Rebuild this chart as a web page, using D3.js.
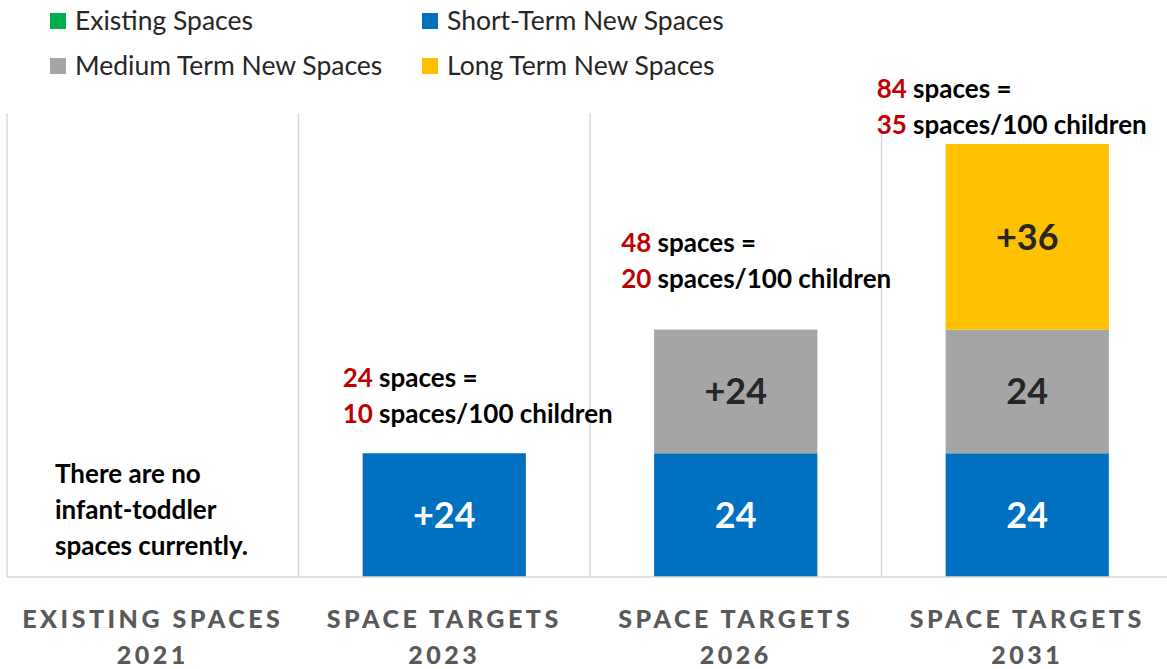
<!DOCTYPE html>
<html>
<head>
<meta charset="utf-8">
<script src="https://cdn.jsdelivr.net/npm/d3@7"></script>
<style>
  body { margin: 0; background: #fff; }
  svg { font-family: Lato, "Open Sans", sans-serif; }
</style>
</head>
<body>
<script>
// Categories and their two-line tick labels
const categories = ["2021", "2023", "2026", "2031"];
const tickLine1 = ["EXISTING SPACES", "SPACE TARGETS", "SPACE TARGETS", "SPACE TARGETS"];
const tickLine2 = ["2021", "2023", "2026", "2031"];

// Stacked series (spaces)
const seriesNames = ["Existing Spaces", "Short-Term New Spaces", "Medium Term New Spaces", "Long Term New Spaces"];
const existing = [0, 0, 0, 0];
const shortTerm = [0, 24, 24, 24];
const mediumTerm = [0, 0, 24, 24];
const longTerm = [0, 0, 0, 36];

// Bar labels
const shortLabels = ["", "+24", "24", "24"];
const mediumLabels = ["", "", "+24", "24"];
const longLabels = ["", "", "", "+36"];

// Annotations above bars
const totals = [null, 24, 48, 84];
const perHundred = [null, 10, 20, 35];
const noteLines = ["There are no", "infant-toddler", "spaces currently."];

const width = 1167, height = 669;
const colors = ["#00B050", "#0070C0", "#A5A5A5", "#FFC000"];
const margin = {left: 7, right: -6, top: 113, bottom: 92};

const svg = d3.select("body").append("svg")
    .attr("width", width)
    .attr("height", height);

const x = d3.scaleBand()
    .domain(categories)
    .range([margin.left, width - margin.right])
    .paddingInner(0.44)
    .paddingOuter(0.22);

// bands for grid lines (full width per category)
const xFull = d3.scaleBand()
    .domain(categories)
    .range([margin.left, width - margin.right]);

const y = d3.scaleLinear()
    .domain([0, 90])
    .range([height - margin.bottom, margin.top]);

// vertical separators
svg.append("g").selectAll("line")
    .data(categories)
    .enter().append("line")
    .attr("x1", d => xFull(d))
    .attr("x2", d => xFull(d))
    .attr("y1", y(90))
    .attr("y2", y(0))
    .attr("stroke", "#D9D9D9")
    .attr("stroke-width", 1.5);

// stacked bars
const rows = categories.map((c, i) => ({
    cat: c, existing: existing[i], shortTerm: shortTerm[i], mediumTerm: mediumTerm[i], longTerm: longTerm[i]
}));
const keys = ["existing", "shortTerm", "mediumTerm", "longTerm"];
const stacked = d3.stack().keys(keys)(rows);
const labelSets = [null, shortLabels, mediumLabels, longLabels];
const labelColors = [null, "#ffffff", "#262626", "#262626"];

stacked.forEach((layer, li) => {
    const g = svg.append("g");
    g.selectAll("rect")
        .data(layer.filter(d => d[1] - d[0] > 0))
        .enter().append("rect")
        .attr("x", d => x(d.data.cat))
        .attr("width", x.bandwidth())
        .attr("y", d => y(d[1]))
        .attr("height", d => y(d[0]) - y(d[1]))
        .attr("fill", colors[li]);
    if (labelSets[li]) {
        g.selectAll("text")
            .data(layer.map((d, i) => ({d, label: labelSets[li][i]})).filter(o => o.label))
            .enter().append("text")
            .attr("x", o => x(o.d.data.cat) + x.bandwidth() / 2)
            .attr("y", o => y((o.d[0] + o.d[1]) / 2))
            .attr("dy", "0.36em")
            .attr("text-anchor", "middle")
            .attr("font-size", 36)
            .attr("font-weight", 700)
            .attr("fill", labelColors[li])
            .text(o => o.label);
    }
});

// baseline
svg.append("line")
    .attr("x1", margin.left).attr("x2", width)
    .attr("y1", y(0)).attr("y2", y(0))
    .attr("stroke", "#D9D9D9").attr("stroke-width", 1.5);

// x axis labels
const axis = svg.append("g");
categories.forEach((c, i) => {
    const cx = xFull(c) + xFull.bandwidth() / 2;
    [tickLine1[i], tickLine2[i]].forEach((t, k) => {
        axis.append("text")
            .attr("x", cx)
            .attr("y", 628 + k * 36)
            .attr("text-anchor", "middle")
            .attr("font-size", 25)
            .attr("font-weight", 900)
            .attr("letter-spacing", 3.5)
            .attr("fill", "#595959")
            .text(t);
    });
});

// annotations: offset from bar left and from bar top
const noteDx = [0, -20, -33, -69];
const noteDy = [0, -66, -78, -46];
categories.forEach((c, i) => {
    if (totals[i] == null) return;
    const ax = x(c) + noteDx[i];
    const ay = y(totals[i]) + noteDy[i];
    const t1 = svg.append("text").attr("x", ax).attr("y", ay)
        .attr("font-size", 26).attr("font-weight", 700).attr("fill", "#000");
    t1.append("tspan").attr("fill", "#C00000").text(totals[i]);
    t1.append("tspan").text(" spaces =");
    const t2 = svg.append("text").attr("x", ax).attr("y", ay + 36)
        .attr("font-size", 26).attr("font-weight", 700).attr("fill", "#000");
    t2.append("tspan").attr("fill", "#C00000").text(perHundred[i]);
    t2.append("tspan").text(" spaces/100 children");
});

// note in first column
noteLines.forEach((t, k) => {
    svg.append("text")
        .attr("x", 55).attr("y", 483 + k * 36)
        .attr("font-size", 26).attr("font-weight", 700).attr("fill", "#000")
        .text(t);
});

// legend
const legendPos = [[50, 21], [422, 21], [50, 66], [422, 66]];
const legend = svg.append("g");
seriesNames.forEach((n, i) => {
    const [lx, ly] = legendPos[i];
    legend.append("rect")
        .attr("x", lx).attr("y", ly - 8)
        .attr("width", 16).attr("height", 16)
        .attr("fill", colors[i]);
    legend.append("text")
        .attr("x", lx + 25).attr("y", ly)
        .attr("dy", "0.35em")
        .attr("font-size", 26.5)
        .attr("fill", "#262626")
        .text(n);
});
</script>
</body>
</html>
